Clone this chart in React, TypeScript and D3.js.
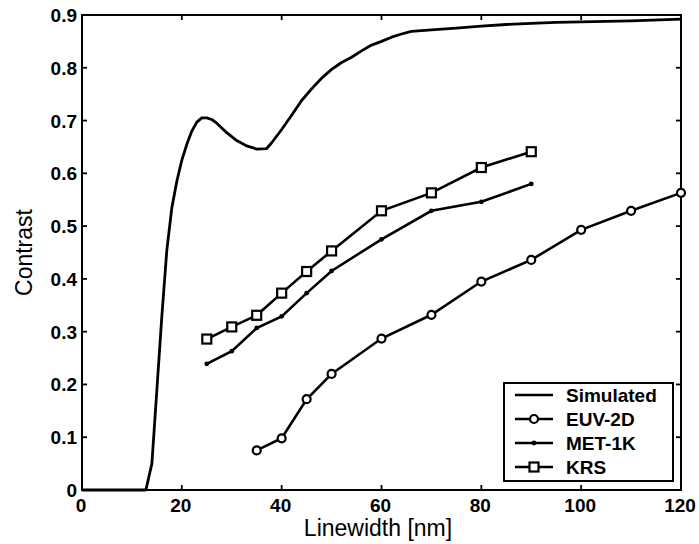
import React from "react";
import * as d3 from "d3";

const simX = [0, 12.8, 14, 15, 16, 17, 18, 19, 20, 21, 22, 23, 24, 25, 26, 27, 29, 31, 33, 35, 37, 38, 40, 42, 44, 46, 48, 50, 52, 54, 56, 58, 60, 62, 64, 66, 70, 75, 80, 85, 90, 95, 100, 110, 120];
const simY = [0, 0, 0.05, 0.19, 0.33, 0.455, 0.535, 0.585, 0.625, 0.655, 0.68, 0.697, 0.705, 0.705, 0.702, 0.695, 0.677, 0.662, 0.652, 0.646, 0.647, 0.658, 0.683, 0.71, 0.738, 0.76, 0.78, 0.797, 0.81, 0.82, 0.832, 0.843, 0.85, 0.858, 0.864, 0.869, 0.872, 0.875, 0.879, 0.882, 0.884, 0.886, 0.887, 0.889, 0.892];

const euvX = [35, 40, 45, 50, 60, 70, 80, 90, 100, 110, 120];
const euvY = [0.075, 0.098, 0.172, 0.22, 0.287, 0.332, 0.395, 0.436, 0.493, 0.529, 0.563];

const metX = [25, 30, 35, 40, 45, 50, 60, 70, 80, 90];
const metY = [0.239, 0.263, 0.307, 0.329, 0.373, 0.415, 0.475, 0.529, 0.546, 0.58];

const krsX = [25, 30, 35, 40, 45, 50, 60, 70, 80, 90];
const krsY = [0.286, 0.309, 0.331, 0.373, 0.414, 0.453, 0.529, 0.563, 0.611, 0.641];

const xTicks = [0, 20, 40, 60, 80, 100, 120];
const yTicks = [0, 0.1, 0.2, 0.3, 0.4, 0.5, 0.6, 0.7, 0.8, 0.9];
const yTickLabels = ["0", "0.1", "0.2", "0.3", "0.4", "0.5", "0.6", "0.7", "0.8", "0.9"];
const legendLabels = ["Simulated", "EUV-2D", "MET-1K", "KRS"];

const W = 699, H = 544;
const L = 82, R = 681, T = 15, B = 490;
const FONT = "Liberation Sans, Arial, Helvetica, sans-serif";

export default function App() {
  const x = d3.scaleLinear().domain([0, 120]).range([L, R]);
  const y = d3.scaleLinear().domain([0, 0.9]).range([B, T]);
  const line = d3.line<[number, number]>().x(d => x(d[0])).y(d => y(d[1]));
  const zip = (a: number[], b: number[]) => a.map((v, i) => [v, b[i]] as [number, number]);
  const sim = zip(simX, simY), euv = zip(euvX, euvY), met = zip(metX, metY), krs = zip(krsX, krsY);
  const tl = 5;

  const lgX0 = 504, lgX1 = 673, lgY0 = 383, lgY1 = 481;
  const rowY = (i: number) => 395 + i * 24;
  const lx0 = 515, lx1 = 553, lxm = 534;

  const circle = (cx: number, cy: number, k: string) => (
    <circle key={k} cx={cx} cy={cy} r={4} fill="white" stroke="black" strokeWidth={2.2} />
  );
  const square = (cx: number, cy: number, k: string) => (
    <rect key={k} x={cx - 4.5} y={cy - 4.5} width={9} height={9} fill="white" stroke="black" strokeWidth={2.2} />
  );
  const dot = (cx: number, cy: number, k: string) => (
    <circle key={k} cx={cx} cy={cy} r={2.4} fill="black" />
  );

  return (
    <svg width={W} height={H} style={{ position: "absolute", left: 0, top: 0, background: "white" }} fontFamily={FONT}>
      <rect x={0} y={0} width={W} height={H} fill="white" />
      {/* frame */}
      <rect x={L} y={T} width={R - L} height={B - T} fill="none" stroke="black" strokeWidth={2} />
      {/* ticks */}
      {xTicks.map(t => (
        <g key={"xt" + t}>
          <line x1={x(t)} x2={x(t)} y1={B} y2={B - tl} stroke="black" strokeWidth={1.8} />
          <line x1={x(t)} x2={x(t)} y1={T} y2={T + tl} stroke="black" strokeWidth={1.8} />
          <text x={x(t) - 1} y={512} textAnchor="middle" fontSize={19} fontWeight="bold">{t}</text>
        </g>
      ))}
      {yTicks.map((t, i) => (
        <g key={"yt" + t}>
          <line x1={L} x2={L + tl} y1={y(t)} y2={y(t)} stroke="black" strokeWidth={1.8} />
          <line x1={R} x2={R - tl} y1={y(t)} y2={y(t)} stroke="black" strokeWidth={1.8} />
          <text x={77} y={y(t) + 7} textAnchor="end" fontSize={19} fontWeight="bold">{yTickLabels[i]}</text>
        </g>
      ))}
      {/* axis titles */}
      <text x={378} y={536} textAnchor="middle" fontSize={23}>Linewidth [nm]</text>
      <text transform={`translate(32, ${(T + B) / 2}) rotate(-90)`} textAnchor="middle" fontSize={23}>Contrast</text>
      {/* series */}
      <path d={line(sim) || ""} fill="none" stroke="black" strokeWidth={2.8} strokeLinejoin="round" />
      <path d={line(krs) || ""} fill="none" stroke="black" strokeWidth={2.6} />
      <path d={line(met) || ""} fill="none" stroke="black" strokeWidth={2.6} />
      <path d={line(euv) || ""} fill="none" stroke="black" strokeWidth={2.6} />
      {krs.map((d, i) => square(x(d[0]), y(d[1]), "k" + i))}
      {met.map((d, i) => dot(x(d[0]), y(d[1]), "m" + i))}
      {euv.map((d, i) => circle(x(d[0]), y(d[1]), "e" + i))}
      {/* legend */}
      <rect x={lgX0} y={lgY0} width={lgX1 - lgX0} height={lgY1 - lgY0} fill="white" stroke="black" strokeWidth={2} />
      {legendLabels.map((lab, i) => (
        <g key={"lg" + i}>
          <line x1={lx0} x2={lx1} y1={rowY(i)} y2={rowY(i)} stroke="black" strokeWidth={2.6} />
          {i === 1 && circle(lxm, rowY(i), "lc")}
          {i === 2 && dot(lxm, rowY(i), "ld")}
          {i === 3 && square(lxm, rowY(i), "ls")}
          <text x={566} y={rowY(i) + 7} fontSize={19} fontWeight="bold">{lab}</text>
        </g>
      ))}
    </svg>
  );
}
